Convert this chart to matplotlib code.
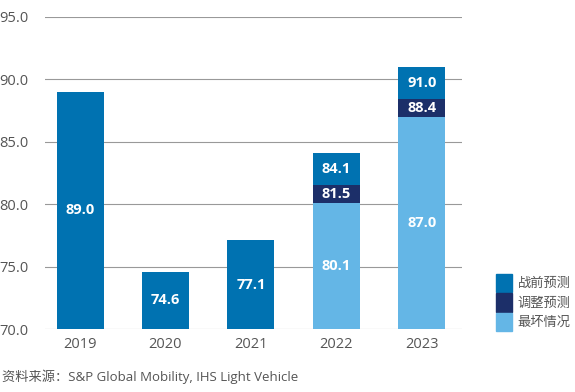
import matplotlib
matplotlib.use("Agg")
import matplotlib.pyplot as plt
from matplotlib.patches import Patch

plt.rcParams['font.family'] = ['Open Sans', 'Noto Sans CJK SC', 'DejaVu Sans']

years = ["2019", "2020", "2021", "2022", "2023"]
worst = [None, None, None, 80.1, 87.0]
adjusted = [None, None, None, 81.5, 88.4]
prewar = [89.0, 74.6, 77.1, 84.1, 91.0]
legend_labels = ["战前预测", "调整预测", "最坏情况"]
yticks = [70, 75, 80, 85, 90, 95]

c_pre = "#0072b1"
c_adj = "#1c2f69"
c_worst = "#64b6e6"
grey = "#555555"
base = 70

fig = plt.figure(figsize=(5.75, 3.92), dpi=100)
ax = fig.add_axes([45/575, 1 - 329/392, (462-45)/575, (329-17)/392])

w = 0.55
for i, y in enumerate(years):
    lo = base
    segs = []
    if worst[i] is not None:
        segs.append((lo, worst[i], c_worst)); lo = worst[i]
    if adjusted[i] is not None:
        segs.append((lo, adjusted[i], c_adj)); lo = adjusted[i]
    segs.append((lo, prewar[i], c_pre))
    vals = [worst[i], adjusted[i], prewar[i]]
    vals = [v for v in vals if v is not None]
    for (b, t, c), v in zip(segs, vals):
        ax.bar(i, t - b, bottom=b, width=w, color=c, zorder=3)
        ax.text(i, (b + t) / 2, f"{v:.1f}", ha="center", va="center",
                color="white", fontsize=10.5, fontweight="bold", zorder=4)

ax.set_ylim(70, 95)
ax.set_xlim(-0.41, 4.47)
ax.set_yticks(yticks)
ax.set_yticklabels([f"{t:.1f}" for t in yticks], color=grey, fontsize=10.5)
ax.set_xticks(range(len(years)))
ax.set_xticklabels(years, color=grey, fontsize=10.5)
ax.tick_params(length=0)
ax.tick_params(axis='y', pad=12)
ax.tick_params(axis='x', pad=6)
for s in ax.spines.values():
    s.set_visible(False)
ax.yaxis.grid(True, color="#999999", linewidth=0.8, zorder=0)
ax.set_axisbelow(True)

handles = [Patch(color=c_pre), Patch(color=c_adj), Patch(color=c_worst)]
fig.legend(handles, legend_labels, loc="lower left", bbox_to_anchor=(484/575, 1 - 343/392),
           frameon=False, fontsize=9.5, labelcolor=grey, handlelength=1.25, handleheight=1.75,
           handletextpad=0.4, labelspacing=0.1)

fig.text(2/575, 1 - 377/392, "资料来源：S&P Global Mobility, IHS Light Vehicle",
         color=grey, fontsize=9.5, va="center", ha="left")

fig.savefig("out.png", dpi=100, facecolor="white")
